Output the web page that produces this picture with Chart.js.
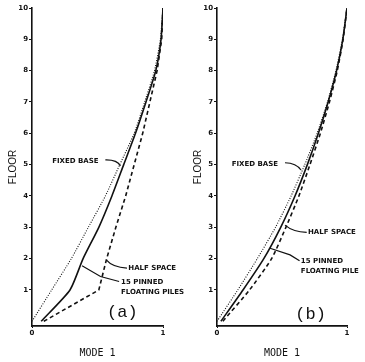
<!DOCTYPE html>
<html>
<head>
<meta charset="utf-8">
<script src="https://cdn.jsdelivr.net/npm/chart.js@4"></script>
<style>
  html, body { margin: 0; padding: 0; background: #fff; }
  #wrap { position: relative; width: 365px; height: 362px; overflow: hidden; }
  #wrap canvas { position: absolute; top: 0; }
</style>
</head>
<body>
<div id="wrap">
  <canvas id="chartA" width="200" height="362" style="left:0"></canvas>
  <canvas id="chartB" width="180" height="362" style="left:185px"></canvas>
</div>
<script>
// floors and tick labels
const floors = [0, 1, 2, 3, 4, 5, 6, 7, 8, 9, 10];
const floorTicks = [1, 2, 3, 4, 5, 6, 7, 8, 9, 10];
const modeTicks = [0, 1];

// mode 1 shape, panel (a)
const fixedBaseA = [0, 0.15, 0.30, 0.43, 0.56, 0.67, 0.78, 0.86, 0.935, 0.98, 1.0];
const pilesA     = [0.07, 0.29, 0.39, 0.51, 0.61, 0.70, 0.79, 0.87, 0.945, 0.985, 1.0];
const halfSpaceA = [0.09, 0.51, 0.57, 0.64, 0.715, 0.78, 0.845, 0.90, 0.955, 0.99, 1.0];

// mode 1 shape, panel (b)
const fixedBaseB = [0, 0.16, 0.31, 0.45, 0.57, 0.675, 0.77, 0.85, 0.915, 0.965, 1.0];
const pilesB     = [0.03, 0.20, 0.36, 0.49, 0.60, 0.695, 0.78, 0.855, 0.92, 0.968, 1.0];
const halfSpaceB = [0.045, 0.25, 0.42, 0.53, 0.63, 0.715, 0.795, 0.865, 0.925, 0.97, 1.0];

const INK = "#111";
const LABEL_FONT = "bold 7px 'DejaVu Sans'";

const toPoints = arr => floors.map((f, i) => ({ x: arr[i], y: f }));

// text labels + leader lines, placed in data units
const notesPlugin = {
  id: "notes",
  afterDraw(chart, args, opts) {
    const { ctx, scales: { x, y } } = chart;
    const px = v => x.getPixelForValue(v);
    const py = v => y.getPixelForValue(v);
    ctx.save();
    ctx.fillStyle = INK;
    ctx.strokeStyle = INK;
    ctx.textBaseline = "middle";
    opts.notes.forEach(n => {
      ctx.font = n.font || LABEL_FONT;
      ctx.textAlign = n.align || "left";
      n.lines.forEach((t, k) => ctx.fillText(t, px(n.x), py(n.y) + k * 10));
    });
    ctx.lineWidth = 1.2;
    opts.leaders.forEach(l => {
      ctx.beginPath();
      ctx.moveTo(px(l.pts[0][0]), py(l.pts[0][1]));
      if (l.curve) {
        ctx.quadraticCurveTo(px(l.pts[1][0]), py(l.pts[1][1]), px(l.pts[2][0]), py(l.pts[2][1]));
      } else {
        l.pts.slice(1).forEach(p => ctx.lineTo(px(p[0]), py(p[1])));
      }
      ctx.stroke();
    });
    ctx.restore();
  }
};

function makeChart(id, fixed, piles, half, halfTension, padRight, notes, leaders) {
  return new Chart(document.getElementById(id), {
    type: "line",
    data: {
      datasets: [
        { label: "Fixed base", data: toPoints(fixed), borderColor: INK, borderWidth: 1.1, borderDash: [1, 1.5], tension: 0.2 },
        { label: "15 pinned floating piles", data: toPoints(piles), borderColor: INK, borderWidth: 1.6, tension: 0.2 },
        { label: "Half space", data: toPoints(half), borderColor: INK, borderWidth: 1.6, borderDash: [4, 3], tension: halfTension }
      ]
    },
    options: {
      responsive: false,
      animation: false,
      layout: { padding: { top: 8, right: padRight, bottom: 0, left: 0 } },
      elements: { point: { radius: 0 } },
      plugins: {
        legend: { display: false },
        tooltip: { enabled: false },
        notes: { notes, leaders }
      },
      scales: {
        x: {
          type: "linear",
          min: 0, max: 1,
          afterFit: s => { s.height = 36; },
          afterBuildTicks: s => { s.ticks = modeTicks.map(v => ({ value: v })); },
          ticks: { color: INK, font: { family: "DejaVu Sans", size: 7, weight: "bold" }, padding: 1, maxRotation: 0 },
          grid: { drawOnChartArea: false, tickLength: 2, color: INK },
          border: { color: INK, width: 1.8 },
          title: { display: true, text: "MODE 1", color: INK, font: { family: "DejaVu Sans Mono", size: 10 }, padding: { top: 0, bottom: 3 } }
        },
        y: {
          type: "linear",
          min: -0.15, max: 10,
          afterFit: s => { s.width = 32; },
          afterBuildTicks: s => { s.ticks = floorTicks.map(v => ({ value: v })); },
          ticks: { color: INK, font: { family: "DejaVu Sans", size: 7, weight: "bold" }, padding: 1 },
          grid: { drawOnChartArea: false, tickLength: 3, color: INK },
          border: { color: INK, width: 1.6 },
          title: { display: true, text: "FLOOR", color: INK, font: { family: "Liberation Sans", size: 10 }, padding: { top: 7, bottom: 0 } }
        }
      }
    },
    plugins: [notesPlugin]
  });
}

makeChart("chartA", fixedBaseA, pilesA, halfSpaceA, 0, 37,
  [
    { x: 0.154, y: 5.12, lines: ["FIXED BASE"] },
    { x: 0.735, y: 1.70, lines: ["HALF SPACE"] },
    { x: 0.68, y: 1.25, lines: ["15 PINNED", "FLOATING PILES"] },
    { x: 0.69, y: 0.27, lines: ["(a)"], align: "center", font: "17px 'Liberation Mono'" }
  ],
  [
    { curve: true, pts: [[0.56, 5.15], [0.65, 5.16], [0.675, 4.96]] },
    { curve: true, pts: [[0.569, 1.95], [0.615, 1.72], [0.725, 1.70]] },
    { pts: [[0.382, 1.77], [0.523, 1.43], [0.665, 1.27]] }
  ]);

makeChart("chartB", fixedBaseB, pilesB, halfSpaceB, 0.2, 18,
  [
    { x: 0.113, y: 5.02, lines: ["FIXED BASE"] },
    { x: 0.70, y: 2.85, lines: ["HALF SPACE"] },
    { x: 0.645, y: 1.93, lines: ["15 PINNED", "FLOATING PILE"] },
    { x: 0.72, y: 0.21, lines: ["(b)"], align: "center", font: "17px 'Liberation Mono'" }
  ],
  [
    { curve: true, pts: [[0.523, 5.06], [0.61, 5.05], [0.646, 4.83]] },
    { curve: true, pts: [[0.523, 3.07], [0.585, 2.85], [0.69, 2.84]] },
    { pts: [[0.408, 2.33], [0.562, 2.12], [0.635, 1.93]] }
  ]);
</script>
</body>
</html>
